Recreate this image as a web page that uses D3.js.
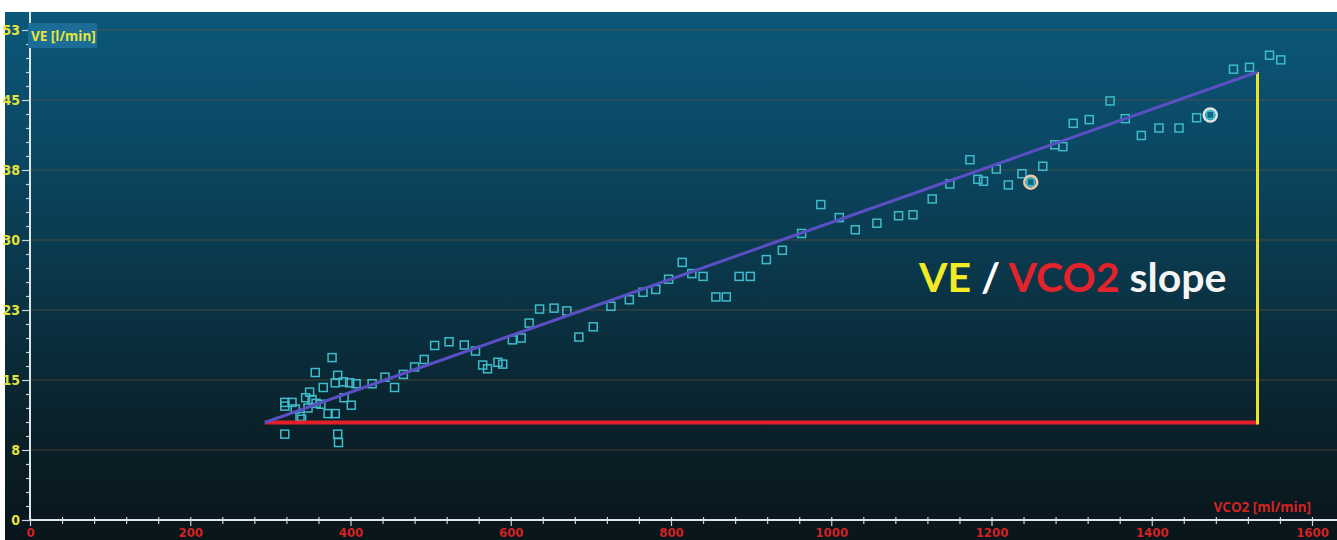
<!DOCTYPE html>
<html lang="en">
<head>
    <meta charset="UTF-8">
    <title>VE / VCO2 slope</title>
    <script src="https://d3js.org/d3.v7.min.js"></script>
    <style>
        body { margin: 0; background: #fff; }
        .tick text { font-family: "Liberation Sans Narrow", "DejaVu Sans Condensed", sans-serif; font-weight: bold; }
    </style>
</head>
<body>
<div id="my_dataviz"></div>
<script>

    // VCO2 [ml/min] and VE [l/min] of each breath
    var vco2 = [318, 384, 385, 377, 356, 384, 381, 391, 399, 407, 366, 349, 344, 352, 318, 327, 357, 363, 392, 401,
        347, 331, 318, 372, 381, 337, 339, 427, 443, 455, 466, 480, 492, 505, 523,
        542, 556, 565, 571, 584, 590, 602, 613, 623, 636, 654, 670, 685, 703, 725, 748, 765, 781, 797,
        814, 826, 840, 856, 869, 885, 899, 919, 939, 963, 987, 1010, 1030, 1057, 1084, 1102, 1126,
        1148, 1173, 1183, 1190, 1206, 1221, 1238, 1249, 1264, 1279, 1289, 1302, 1322, 1348, 1367, 1387,
        1409, 1434, 1456, 1473, 1502, 1522, 1547, 1561];
    var ve = [9.2, 9.2, 8.3, 17.4, 15.8, 15.5, 14.7, 14.8, 14.7, 14.6, 14.2, 13.7, 13.1, 12.9, 12.6, 12.6, 12.5, 12.4, 13.1, 12.3,
        12.0, 11.9, 12.2, 11.4, 11.4, 11.1, 10.8, 14.6, 15.3, 14.2, 15.6, 16.4, 17.2, 18.7, 19.1,
        18.75, 18.1, 16.6, 16.2, 16.9, 16.7, 19.3, 19.5, 21.1, 22.6, 22.7, 22.4, 19.6, 20.7, 22.9, 23.6, 24.4, 24.7, 25.8,
        27.6, 26.4, 26.1, 23.9, 23.9, 26.1, 26.1, 27.9, 28.9, 30.7, 33.8, 32.4, 31.1, 31.8, 32.6, 32.7, 34.4,
        36.0, 38.6, 36.5, 36.3, 37.6, 35.9, 37.1, 36.2, 37.9, 40.2, 40.0, 42.5, 42.9, 44.9, 43.0, 41.2,
        42.0, 42.0, 43.1, 43.4, 48.3, 48.5, 49.8, 49.3];

    // the two marked points (index in the arrays above) and their ring colours
    var markedIndex = [78, 90];
    var markedColor = ["#f2c9a6", "#e4e4e4"];

    // slope line ends: [VCO2, VE]
    var slopeStart = [293, 10.45];
    var slopeEnd = [1532, 48.0];

    var xMajor = [0, 200, 400, 600, 800, 1000, 1200, 1400, 1600];
    var yMajor = [0, 7.5, 15, 22.5, 30, 37.5, 45, 52.5];

    var W = 1337, H = 540;

    var svg = d3.select("#my_dataviz")
        .append("svg")
        .attr("width", W)
        .attr("height", H);

    var defs = svg.append("defs");
    var grad = defs.append("linearGradient")
        .attr("id", "bg")
        .attr("x1", 0).attr("y1", 0).attr("x2", 0).attr("y2", 1);
    grad.append("stop").attr("offset", "0%").attr("stop-color", "#0b5879");
    grad.append("stop").attr("offset", "25%").attr("stop-color", "#0b4864");
    grad.append("stop").attr("offset", "55%").attr("stop-color", "#0a3344");
    grad.append("stop").attr("offset", "80%").attr("stop-color", "#0a2029");
    grad.append("stop").attr("offset", "100%").attr("stop-color", "#09151b");

    // panel
    svg.append("rect")
        .attr("x", 5).attr("y", 12)
        .attr("width", W - 5).attr("height", H - 12)
        .attr("fill", "url(#bg)");

    var x = d3.scaleLinear().domain([0, 1600]).range([30, 1312]);
    var y = d3.scaleLinear().domain([0, 52.5]).range([520, 30]);

    // grid lines
    svg.append("g")
        .selectAll("line")
        .data(yMajor.slice(1))
        .enter()
        .append("line")
        .attr("x1", x(0)).attr("x2", W)
        .attr("y1", function(d) { return y(d); })
        .attr("y2", function(d) { return y(d); })
        .attr("stroke", "#6e5638")
        .attr("stroke-opacity", 0.6)
        .attr("stroke-width", 1);

    // minor ticks
    var xMinor = d3.range(0, 1600.1, 40).filter(function(d) { return d % 200 !== 0; });
    var yMinor = d3.range(0, 52.6, 1.5).filter(function(d) { return Math.abs(d / 7.5 - Math.round(d / 7.5)) > 0.01; });

    // Y axis
    var yAxis = svg.append("g")
        .attr("transform", "translate(" + x(0) + ",0)")
        .call(d3.axisLeft(y).tickValues(yMajor).tickFormat(d3.format(".0f")).tickSize(8).tickPadding(2));
    yAxis.select(".domain").remove();
    yAxis.selectAll("line").attr("stroke", "#c8d4dc").attr("stroke-width", 1.2);
    yAxis.selectAll("text").attr("fill", "#e2e23c").attr("font-size", 14);

    var yMinorAxis = svg.append("g")
        .attr("transform", "translate(" + x(0) + ",0)")
        .call(d3.axisLeft(y).tickValues(yMinor).tickFormat("").tickSize(4));
    yMinorAxis.select(".domain").remove();
    yMinorAxis.selectAll("line").attr("stroke", "#c8d4dc").attr("stroke-width", 1.2);

    // X axis
    var xAxis = svg.append("g")
        .attr("transform", "translate(0," + y(0) + ")")
        .call(d3.axisBottom(x).tickValues(xMajor).tickFormat(d3.format("d")).tickSize(6).tickPadding(2));
    xAxis.select(".domain").remove();
    xAxis.selectAll("line").attr("y1", -3).attr("stroke", "#c8d4dc").attr("stroke-width", 1.2);
    xAxis.selectAll("text").attr("fill", "#d42222").attr("font-size", 13);

    var xMinorAxis = svg.append("g")
        .attr("transform", "translate(0," + y(0) + ")")
        .call(d3.axisBottom(x).tickValues(xMinor).tickFormat("").tickSize(4));
    xMinorAxis.select(".domain").remove();
    xMinorAxis.selectAll("line").attr("y1", -3).attr("stroke", "#c8d4dc").attr("stroke-width", 1.2);

    // axis lines
    svg.append("line")
        .attr("x1", x(0)).attr("x2", x(0))
        .attr("y1", 12).attr("y2", y(0))
        .attr("stroke", "#dfe6ea").attr("stroke-width", 2);
    svg.append("line")
        .attr("x1", x(0)).attr("x2", W)
        .attr("y1", y(0)).attr("y2", y(0))
        .attr("stroke", "#dfe6ea").attr("stroke-width", 2);

    // axis titles
    svg.append("rect")
        .attr("x", 28).attr("y", 23)
        .attr("width", 69).attr("height", 25)
        .attr("fill", "#1b6d98");
    svg.append("text")
        .attr("x", 31).attr("y", 41)
        .attr("font-family", "'Open Sans', sans-serif")
        .attr("font-weight", "bold")
        .attr("font-size", 13.5)
        .attr("fill", "#e6e63a")
        .text("VE [l/min]");

    svg.append("text")
        .attr("x", 1311).attr("y", 512)
        .attr("text-anchor", "end")
        .attr("font-family", "'Open Sans', sans-serif")
        .attr("font-weight", "bold")
        .attr("font-size", 13.5)
        .attr("fill", "#d42222")
        .text("VCO2 [ml/min]");

    // points
    var pts = vco2.map(function(v, i) { return {vco2: v, ve: ve[i]}; });
    svg.append("g")
        .selectAll("rect")
        .data(pts)
        .enter()
        .append("rect")
        .attr("x", function(d) { return x(d.vco2) - 4; })
        .attr("y", function(d) { return y(d.ve) - 4; })
        .attr("width", 8)
        .attr("height", 8)
        .attr("fill", "none")
        .attr("stroke", "#3fbccc")
        .attr("stroke-width", 1.5);

    // slope triangle
    svg.append("line")
        .attr("x1", x(slopeStart[0])).attr("y1", y(slopeStart[1]))
        .attr("x2", x(slopeEnd[0])).attr("y2", y(slopeStart[1]))
        .attr("stroke", "#e3202a").attr("stroke-width", 4);
    svg.append("line")
        .attr("x1", x(slopeEnd[0])).attr("y1", y(slopeStart[1]) + 2)
        .attr("x2", x(slopeEnd[0])).attr("y2", y(slopeEnd[1]))
        .attr("stroke", "#eee22a").attr("stroke-width", 3);
    svg.append("line")
        .attr("x1", x(slopeStart[0])).attr("y1", y(slopeStart[1]))
        .attr("x2", x(slopeEnd[0])).attr("y2", y(slopeEnd[1]))
        .attr("stroke", "#5b4fc4").attr("stroke-width", 3);

    // marked points
    var marks = svg.append("g")
        .selectAll("g")
        .data(markedIndex)
        .enter()
        .append("g")
        .attr("transform", function(d) { return "translate(" + x(vco2[d]) + "," + y(ve[d]) + ")"; });
    marks.append("circle")
        .attr("r", 6.5)
        .attr("fill", "none")
        .attr("stroke", function(d, i) { return markedColor[i]; })
        .attr("stroke-width", 2.5);
    marks.append("rect")
        .attr("x", -3.5).attr("y", -3.5)
        .attr("width", 7).attr("height", 7)
        .attr("fill", "#0f6a88")
        .attr("stroke", "#3fbccc")
        .attr("stroke-width", 1.2);

    // slope caption
    var cap = svg.append("text")
        .attr("x", 919).attr("y", 292)
        .attr("font-family", "Lato, 'Open Sans', sans-serif")
        .attr("font-weight", "bold")
        .attr("font-size", 41);
    cap.append("tspan").attr("fill", "#f2ea24").text("VE ");
    cap.append("tspan").attr("fill", "#ffffff").text("/ ");
    cap.append("tspan").attr("fill", "#e4222b").text("VCO2 ");
    cap.append("tspan").attr("fill", "#f4f4f4").text("slope");

</script>
</body>
</html>
